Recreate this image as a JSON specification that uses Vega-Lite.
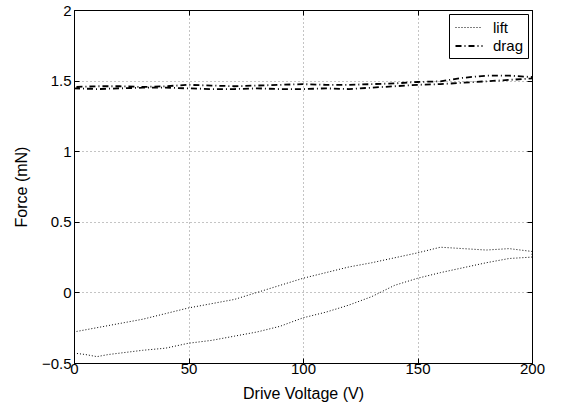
{
  "$schema": "https://vega.github.io/schema/vega-lite/v6.json",
  "width": 458,
  "height": 353,
  "autosize": {"type": "none"},
  "padding": {"left": 74, "top": 10, "right": 32, "bottom": 51},
  "background": "white",
  "config": {
    "font": "Liberation Sans",
    "view": {"stroke": "black", "strokeWidth": 1}
  },
  "data": {
    "values": [
      {"series": "lift", "order": 1, "V": 0, "F": -0.43},
      {"series": "lift", "order": 2, "V": 5, "F": -0.44},
      {"series": "lift", "order": 3, "V": 10, "F": -0.455},
      {"series": "lift", "order": 4, "V": 15, "F": -0.44},
      {"series": "lift", "order": 5, "V": 20, "F": -0.43},
      {"series": "lift", "order": 6, "V": 25, "F": -0.42},
      {"series": "lift", "order": 7, "V": 30, "F": -0.41},
      {"series": "lift", "order": 8, "V": 40, "F": -0.395},
      {"series": "lift", "order": 9, "V": 50, "F": -0.36},
      {"series": "lift", "order": 10, "V": 60, "F": -0.34},
      {"series": "lift", "order": 11, "V": 70, "F": -0.31},
      {"series": "lift", "order": 12, "V": 80, "F": -0.28},
      {"series": "lift", "order": 13, "V": 90, "F": -0.24},
      {"series": "lift", "order": 14, "V": 100, "F": -0.18},
      {"series": "lift", "order": 15, "V": 110, "F": -0.14},
      {"series": "lift", "order": 16, "V": 120, "F": -0.09},
      {"series": "lift", "order": 17, "V": 130, "F": -0.03},
      {"series": "lift", "order": 18, "V": 140, "F": 0.05},
      {"series": "lift", "order": 19, "V": 150, "F": 0.1},
      {"series": "lift", "order": 20, "V": 160, "F": 0.14},
      {"series": "lift", "order": 21, "V": 170, "F": 0.175},
      {"series": "lift", "order": 22, "V": 180, "F": 0.21},
      {"series": "lift", "order": 23, "V": 190, "F": 0.24},
      {"series": "lift", "order": 24, "V": 200, "F": 0.25},
      {"series": "lift", "order": 25, "V": 200, "F": 0.29},
      {"series": "lift", "order": 26, "V": 190, "F": 0.31},
      {"series": "lift", "order": 27, "V": 180, "F": 0.3},
      {"series": "lift", "order": 28, "V": 170, "F": 0.31},
      {"series": "lift", "order": 29, "V": 160, "F": 0.32},
      {"series": "lift", "order": 30, "V": 150, "F": 0.28},
      {"series": "lift", "order": 31, "V": 140, "F": 0.245},
      {"series": "lift", "order": 32, "V": 130, "F": 0.21},
      {"series": "lift", "order": 33, "V": 120, "F": 0.18},
      {"series": "lift", "order": 34, "V": 110, "F": 0.14},
      {"series": "lift", "order": 35, "V": 100, "F": 0.1},
      {"series": "lift", "order": 36, "V": 90, "F": 0.05},
      {"series": "lift", "order": 37, "V": 80, "F": 0.0},
      {"series": "lift", "order": 38, "V": 70, "F": -0.05},
      {"series": "lift", "order": 39, "V": 60, "F": -0.08},
      {"series": "lift", "order": 40, "V": 50, "F": -0.11},
      {"series": "lift", "order": 41, "V": 40, "F": -0.15},
      {"series": "lift", "order": 42, "V": 30, "F": -0.19},
      {"series": "lift", "order": 43, "V": 20, "F": -0.22},
      {"series": "lift", "order": 44, "V": 10, "F": -0.25},
      {"series": "lift", "order": 45, "V": 0, "F": -0.28},
      {"series": "drag", "order": 1, "V": 0, "F": 1.445},
      {"series": "drag", "order": 2, "V": 10, "F": 1.44},
      {"series": "drag", "order": 3, "V": 20, "F": 1.445},
      {"series": "drag", "order": 4, "V": 30, "F": 1.45},
      {"series": "drag", "order": 5, "V": 40, "F": 1.45},
      {"series": "drag", "order": 6, "V": 50, "F": 1.445},
      {"series": "drag", "order": 7, "V": 60, "F": 1.44},
      {"series": "drag", "order": 8, "V": 70, "F": 1.44},
      {"series": "drag", "order": 9, "V": 80, "F": 1.445},
      {"series": "drag", "order": 10, "V": 90, "F": 1.44},
      {"series": "drag", "order": 11, "V": 100, "F": 1.44},
      {"series": "drag", "order": 12, "V": 110, "F": 1.445},
      {"series": "drag", "order": 13, "V": 120, "F": 1.44},
      {"series": "drag", "order": 14, "V": 130, "F": 1.45},
      {"series": "drag", "order": 15, "V": 140, "F": 1.46},
      {"series": "drag", "order": 16, "V": 150, "F": 1.47},
      {"series": "drag", "order": 17, "V": 160, "F": 1.475},
      {"series": "drag", "order": 18, "V": 170, "F": 1.485},
      {"series": "drag", "order": 19, "V": 180, "F": 1.495},
      {"series": "drag", "order": 20, "V": 190, "F": 1.505},
      {"series": "drag", "order": 21, "V": 200, "F": 1.515},
      {"series": "drag", "order": 22, "V": 200, "F": 1.525},
      {"series": "drag", "order": 23, "V": 190, "F": 1.535},
      {"series": "drag", "order": 24, "V": 180, "F": 1.535},
      {"series": "drag", "order": 25, "V": 170, "F": 1.52},
      {"series": "drag", "order": 26, "V": 160, "F": 1.495},
      {"series": "drag", "order": 27, "V": 150, "F": 1.49},
      {"series": "drag", "order": 28, "V": 140, "F": 1.48},
      {"series": "drag", "order": 29, "V": 130, "F": 1.475},
      {"series": "drag", "order": 30, "V": 120, "F": 1.47},
      {"series": "drag", "order": 31, "V": 110, "F": 1.47},
      {"series": "drag", "order": 32, "V": 100, "F": 1.475},
      {"series": "drag", "order": 33, "V": 90, "F": 1.47},
      {"series": "drag", "order": 34, "V": 80, "F": 1.465},
      {"series": "drag", "order": 35, "V": 70, "F": 1.46},
      {"series": "drag", "order": 36, "V": 60, "F": 1.465},
      {"series": "drag", "order": 37, "V": 50, "F": 1.47},
      {"series": "drag", "order": 38, "V": 40, "F": 1.46},
      {"series": "drag", "order": 39, "V": 30, "F": 1.455},
      {"series": "drag", "order": 40, "V": 20, "F": 1.46},
      {"series": "drag", "order": 41, "V": 10, "F": 1.46},
      {"series": "drag", "order": 42, "V": 0, "F": 1.455}
    ]
  },
  "layer": [
    {
      "mark": {"type": "line", "color": "black", "strokeCap": "butt"},
      "encoding": {
        "x": {
          "field": "V",
          "type": "quantitative",
          "scale": {"domain": [0, 200], "nice": false},
          "axis": {
            "title": "Drive Voltage (V)",
            "titleFontSize": 16,
            "titleFontWeight": "normal",
            "titleColor": "black",
            "titlePadding": 9,
            "values": [0, 50, 100, 150, 200],
            "labelFontSize": 15,
            "labelColor": "black",
            "labelPadding": 3,
            "labelFlush": false,
            "tickSize": -5,
            "tickColor": "black",
            "domainColor": "black",
            "grid": true,
            "gridColor": "#888888",
            "gridDash": [1, 3],
            "gridWidth": 1
          }
        },
        "y": {
          "field": "F",
          "type": "quantitative",
          "scale": {"domain": [-0.5, 2], "nice": false, "zero": false},
          "axis": {
            "title": "Force (mN)",
            "titleFontSize": 16,
            "titleFontWeight": "normal",
            "titleColor": "black",
            "titlePadding": 12,
            "values": [-0.5, 0, 0.5, 1, 1.5, 2],
            "format": "~g",
            "labelFontSize": 15,
            "labelColor": "black",
            "labelPadding": 8,
            "labelFlush": false,
            "tickSize": -5,
            "tickColor": "black",
            "domainColor": "black",
            "grid": true,
            "gridColor": "#888888",
            "gridDash": [1, 3],
            "gridWidth": 1
          }
        },
        "order": {"field": "order", "type": "quantitative"},
        "strokeDash": {
          "field": "series",
          "type": "nominal",
          "scale": {"domain": ["lift", "drag"], "range": [[1, 2], [6, 3, 1, 3]]},
          "legend": {
            "title": null,
            "orient": "top-right",
            "offset": 4,
            "fillColor": "white",
            "strokeColor": "black",
            "padding": 4,
            "symbolType": "M-1.5,0H1.5",
            "symbolSize": 324,
            "symbolOffset": 6,
            "symbolFillColor": "transparent",
            "symbolStrokeColor": "black",
            "symbolStrokeWidth": 1.3,
            "labelFontSize": 15,
            "labelColor": "black",
            "labelOffset": 14,
            "rowPadding": 0
          }
        },
        "strokeWidth": {
          "field": "series",
          "type": "nominal",
          "scale": {"domain": ["lift", "drag"], "range": [1, 1.8]},
          "legend": null
        }
      }
    },
    {
      "mark": {"type": "point", "opacity": 0},
      "encoding": {
        "x": {
          "field": "V",
          "type": "quantitative",
          "axis": {
            "orient": "top",
            "title": null,
            "values": [0, 50, 100, 150, 200],
            "labels": false,
            "tickSize": -5,
            "tickColor": "black",
            "domainColor": "black",
            "grid": false
          }
        },
        "y": {
          "field": "F",
          "type": "quantitative",
          "axis": {
            "orient": "right",
            "title": null,
            "values": [-0.5, 0, 0.5, 1, 1.5, 2],
            "labels": false,
            "tickSize": -5,
            "tickColor": "black",
            "domainColor": "black",
            "grid": false
          }
        }
      }
    }
  ],
  "resolve": {"axis": {"x": "independent", "y": "independent"}}
}
